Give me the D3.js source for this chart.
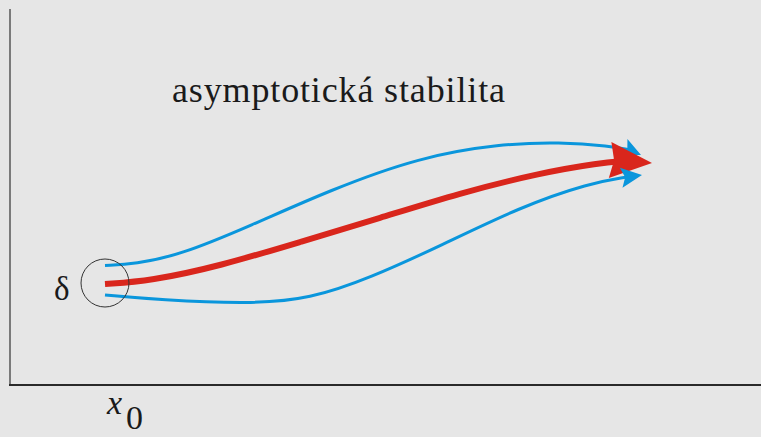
<!DOCTYPE html>
<html>
<head>
<meta charset="utf-8">
<script src="https://cdn.jsdelivr.net/npm/d3@7"></script>
<style>
  body { margin: 0; background: #e6e6e6; }
  svg { display: block; }
  text { font-family: "Liberation Serif", "DejaVu Serif", "Times New Roman", serif; }
</style>
</head>
<body>
<div id="diagram"></div>
<script>
/* Trajectory samples (x, y in pixel space). */
const upperX = [105, 135, 180, 250, 330, 420, 500, 560, 610, 630];
const upperY = [265.5, 264, 255, 226, 190, 157, 144, 142, 146, 150];
const mainX = [105, 150, 220, 300, 380, 460, 540, 600, 624];
const mainY = [284, 281, 266, 242, 218, 193, 173, 163, 161];
const lowerX = [105, 160, 250, 310, 370, 440, 520, 590, 627];
const lowerY = [295, 300, 304, 299, 278, 246, 207, 183, 177];

/* Arrow tips. */
const tipX = [641, 652, 642];
const tipY = [155, 163, 175];

/* Labels. */
const title = "asymptotická stabilita";
const startLabel = "δ";

const params = {
  width: 761,
  height: 437,
  blue: "#0a96dc",
  red: "#d9261c"
};

const x = d3.scaleLinear().domain([0, params.width]).range([0, params.width]);
const y = d3.scaleLinear().domain([0, params.height]).range([0, params.height]);

const svg = d3.select("#diagram")
  .append("svg")
  .attr("width", params.width)
  .attr("height", params.height);

svg.append("rect")
  .attr("width", params.width)
  .attr("height", params.height)
  .attr("fill", "#e6e6e6");

/* Axes: plain lines forming the corner. */
svg.append("line")
  .attr("x1", x(10)).attr("x2", x(10))
  .attr("y1", y(9)).attr("y2", y(385))
  .attr("stroke", "#7a7a7a").attr("stroke-width", 2);
svg.append("line")
  .attr("x1", x(9)).attr("x2", x(761))
  .attr("y1", y(385)).attr("y2", y(385))
  .attr("stroke", "#2a2a2a").attr("stroke-width", 2);

const line = d3.line()
  .x(d => x(d[0]))
  .y(d => y(d[1]))
  .curve(d3.curveBasis);

/* Draw one trajectory with its arrowhead. */
function trajectory(xs, ys, tip, color, width, headLen, headHalf) {
  const pts = xs.map((v, i) => [v, ys[i]]);
  svg.append("path")
    .attr("d", line(pts))
    .attr("fill", "none")
    .attr("stroke", color)
    .attr("stroke-width", width);

  const last = pts[pts.length - 1];
  const ang = Math.atan2(tip[1] - last[1], tip[0] - last[0]);
  const bx = tip[0] - headLen * Math.cos(ang);
  const by = tip[1] - headLen * Math.sin(ang);
  const nx = -Math.sin(ang), ny = Math.cos(ang);
  const back = 4;
  const mx = bx + back * Math.cos(ang), my = by + back * Math.sin(ang);
  const head = [
    [tip[0], tip[1]],
    [bx + nx * headHalf, by + ny * headHalf],
    [mx, my],
    [bx - nx * headHalf, by - ny * headHalf]
  ];
  svg.append("path")
    .attr("d", "M" + head.map(p => x(p[0]) + "," + y(p[1])).join("L") + "Z")
    .attr("fill", color);
}

trajectory(upperX, upperY, [tipX[0], tipY[0]], params.blue, 3, 19, 9);
trajectory(mainX, mainY, [tipX[1], tipY[1]], params.red, 6, 42, 18);
trajectory(lowerX, lowerY, [tipX[2], tipY[2]], params.blue, 3, 21, 10);

/* Neighbourhood circle around the start point. */
svg.append("circle")
  .attr("cx", x(105)).attr("cy", y(283))
  .attr("r", 24)
  .attr("fill", "none")
  .attr("stroke", "#333")
  .attr("stroke-width", 1);

svg.append("text")
  .attr("x", x(172)).attr("y", y(102))
  .attr("font-size", 36)
  .attr("textLength", 333)
  .attr("lengthAdjust", "spacing")
  .attr("fill", "#1a1a1a")
  .text(title);

svg.append("text")
  .attr("x", x(54)).attr("y", y(300))
  .attr("font-size", 33)
  .attr("fill", "#1a1a1a")
  .text(startLabel);

const x0 = svg.append("text")
  .attr("x", x(107)).attr("y", y(414))
  .attr("font-size", 34)
  .attr("fill", "#1a1a1a");
x0.append("tspan").attr("font-style", "italic").text("x");
x0.append("tspan").attr("dx", 4).attr("dy", 15).text("0");
</script>
</body>
</html>
